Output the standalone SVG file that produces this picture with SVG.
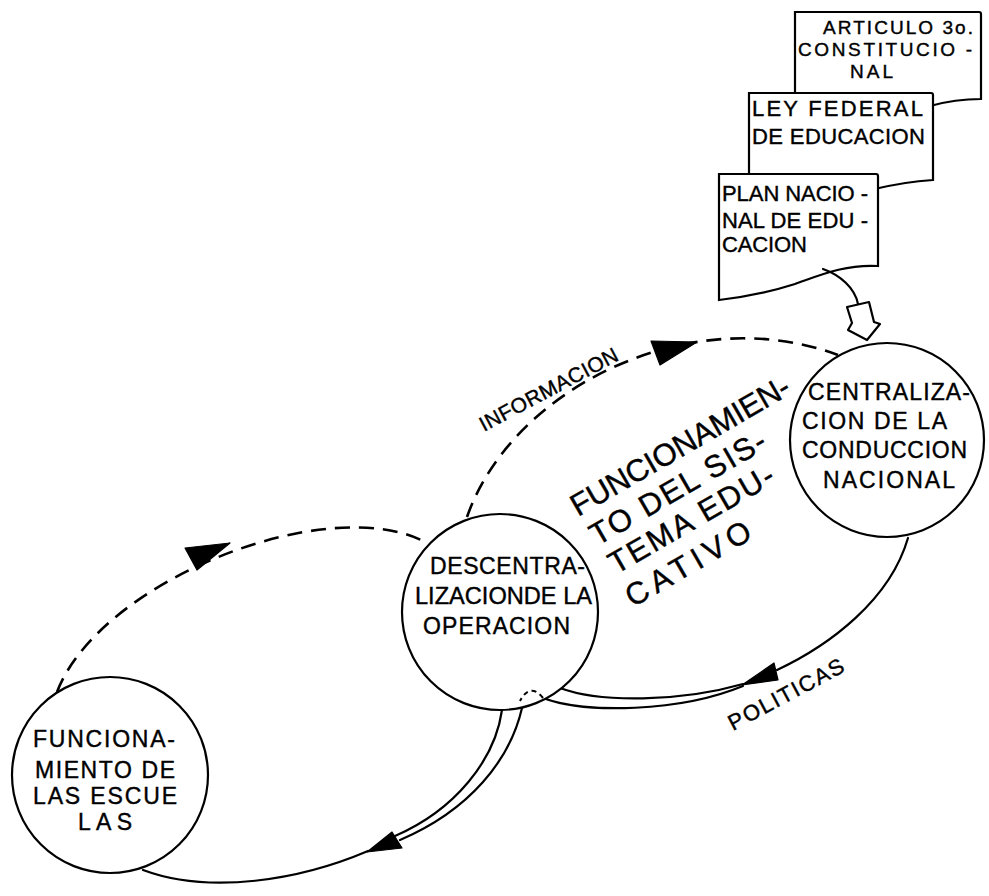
<svg xmlns="http://www.w3.org/2000/svg" width="989" height="896" viewBox="0 0 989 896">
<style>
.ln{fill:none;stroke:#000;stroke-width:2.2;stroke-linecap:round;stroke-linejoin:round}
.ds{fill:none;stroke:#000;stroke-width:2.6;stroke-dasharray:15 9}
.nd{fill:#fff;stroke:#000;stroke-width:2.2}
.ah{fill:#000;stroke:#000;stroke-width:1.2;stroke-linejoin:round}
text{font-family:"Liberation Sans",Arial,sans-serif;fill:#000;stroke:#000;stroke-width:0.4}
.t{font-size:23px}
.d{font-size:22px}
.d1{font-size:19px}
.big{font-size:31px;stroke-width:0.4}
</style>
<rect width="989" height="896" fill="#fff"/>
<g id="documents">
  <g id="doc-articulo">
    <path class="nd" d="M795,12 H979 Q981,12 981,14 V99 C 962,99 948,101 930,106 L795,106 Z"/>
    <text class="d1" x="823" y="34" textLength="150" lengthAdjust="spacing">ARTICULO 3o.</text>
    <text class="d1" x="798" y="56" textLength="174" lengthAdjust="spacing">CONSTITUCIO -</text>
    <text class="d1" x="850" y="78" textLength="43" lengthAdjust="spacing">NAL</text>
  </g>
  <g id="doc-ley">
    <path class="nd" d="M749,93 H931 Q933,93 933,95 V180 C 915,181 895,184 870,190 L749,190 Z"/>
    <text class="d" x="752" y="116" textLength="171" lengthAdjust="spacing">LEY FEDERAL</text>
    <text class="d" x="752" y="144" textLength="173" lengthAdjust="spacing">DE EDUCACION</text>
  </g>
  <g id="doc-plan">
    <path class="nd" d="M719,174 H876 Q878,174 878,176 V266 C 845,264 818,276 795,284 C 770,292 745,297 719,300 Z"/>
    <text class="d" x="722" y="201" textLength="146" lengthAdjust="spacing">PLAN NACIO -</text>
    <text class="d" x="722" y="228" textLength="146" lengthAdjust="spacing">NAL DE EDU -</text>
    <text class="d" x="722" y="252" textLength="85" lengthAdjust="spacing">CACION</text>
  </g>
</g>
<g id="connectors">
  <path class="ln" d="M823,269 C 840,275 855,288 858,304"/>
  <path class="nd" d="M847,307 L869,302 L874,322 L880,324 L867,340 L848,330 L852,323 Z" stroke-linejoin="round"/>
  <path class="ds" d="M467,517 C 512,388 690,300 838,355"/>
  <polygon class="ah" points="697,342 651,341 660,365"/>
  <path class="ds" d="M57,692 C 100,580 330,490 427,543"/>
  <polygon class="ah" points="230,543 185,548 197,570"/>
  <path class="ln" d="M908,538 C 890,600 830,645 777,670"/>
  <polygon class="ah" points="742,685 774,663 778,680"/>
  <path class="ln" d="M560,688 C 600,703 680,702 743,684"/>
  <path class="ln" d="M543,698 C 585,714 680,712 743,686"/>
  <path class="ln" d="M522,708 C 510,760 470,810 400,840"/>
  <path class="ln" d="M502,710 C 495,760 455,810 395,836"/>
  <polygon class="ah" points="367,852 392,832 402,848"/>
  <path class="ln" d="M368,851 C 300,880 210,895 143,870"/>
</g>
<g id="node-descentralizacion">
  <circle class="nd" cx="500" cy="612" r="98"/>
  <path d="M543,698 Q 530,682 520,701" fill="none" stroke="#000" stroke-width="2" stroke-dasharray="5 4"/>
  <text class="t" x="430" y="574" textLength="155" lengthAdjust="spacing">DESCENTRA-</text>
  <text class="t" x="415" y="604" textLength="177" lengthAdjust="spacingAndGlyphs">LIZACIONDE LA</text>
  <text class="t" x="423" y="634" textLength="147" lengthAdjust="spacing">OPERACION</text>
</g>
<g id="node-centralizacion">
  <circle class="nd" cx="887" cy="440" r="97"/>
  <text class="t" x="808" y="400" textLength="162" lengthAdjust="spacing">CENTRALIZA-</text>
  <text class="t" x="802" y="429" textLength="145" lengthAdjust="spacing">CION DE LA</text>
  <text class="t" x="802" y="458" textLength="165" lengthAdjust="spacing">CONDUCCION</text>
  <text class="t" x="823" y="488" textLength="132" lengthAdjust="spacing">NACIONAL</text>
</g>
<g id="node-escuelas">
  <circle class="nd" cx="110" cy="775" r="98"/>
  <text class="t" x="33" y="747" textLength="142" lengthAdjust="spacing">FUNCIONA-</text>
  <text class="t" x="35" y="778" textLength="140" lengthAdjust="spacing">MIENTO DE</text>
  <text class="t" x="33" y="804" textLength="144" lengthAdjust="spacing">LAS ESCUE</text>
  <text class="t" x="78" y="830" textLength="54" lengthAdjust="spacing">LAS</text>
</g>
<g id="labels">
  <text x="484" y="432" font-size="21" transform="rotate(-28 484 432)" textLength="154" lengthAdjust="spacing">INFORMACION</text>
  <text x="733" y="731" font-size="22" transform="rotate(-28 733 731)" textLength="128" lengthAdjust="spacing">POLITICAS</text>
  <g transform="translate(578,517) rotate(-30)">
    <text class="big" x="0" y="0" textLength="248" lengthAdjust="spacing">FUNCIONAMIEN-</text>
    <text class="big" x="2" y="35" textLength="198" lengthAdjust="spacing">TO DEL SIS-</text>
    <text class="big" x="4" y="69" textLength="186" lengthAdjust="spacing">TEMA EDU-</text>
    <text class="big" x="2" y="106" textLength="140" lengthAdjust="spacing">CATIVO</text>
  </g>
</g>
</svg>
